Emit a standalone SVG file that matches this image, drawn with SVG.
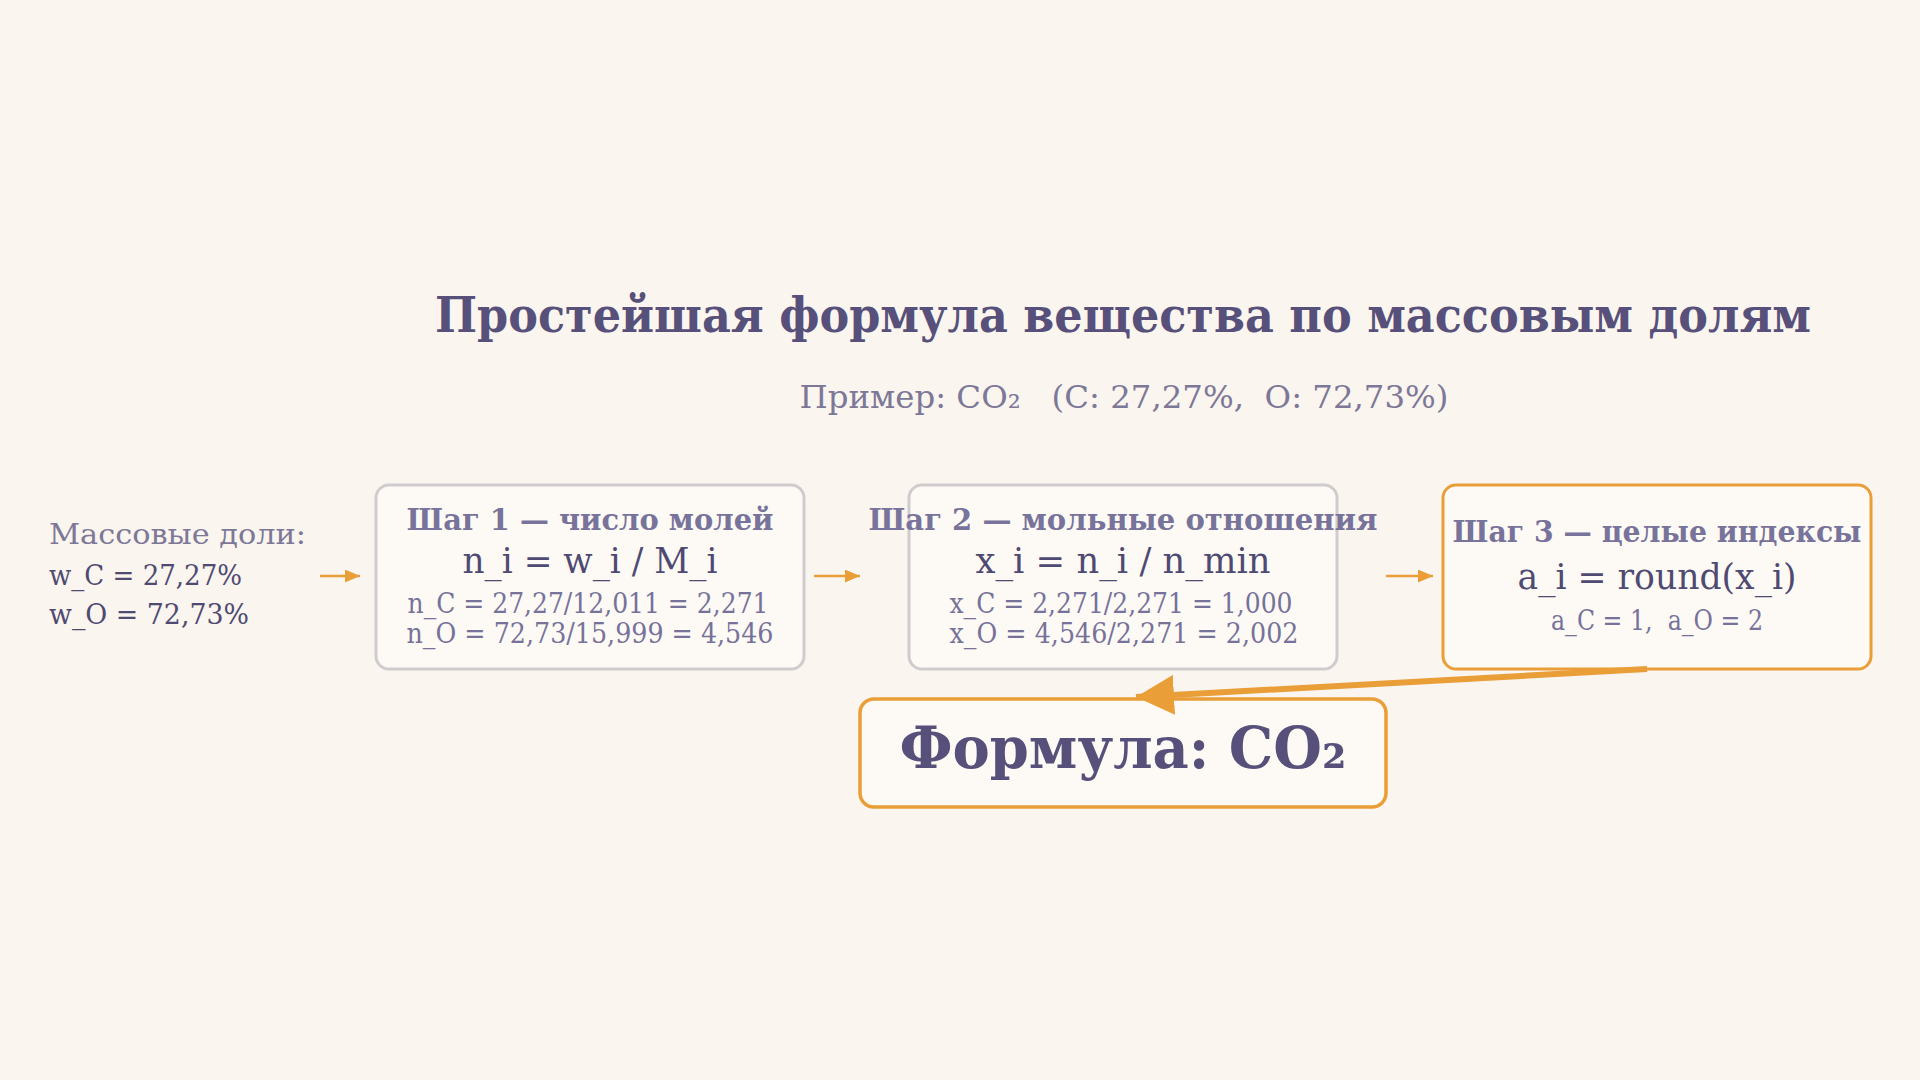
<svg xmlns="http://www.w3.org/2000/svg" width="1920" height="1080" viewBox="0 0 1920 1080">
<defs>
<style>
text{font-family:"DejaVu Serif","Liberation Serif",serif;white-space:pre}
.title{font-size:48px;font-weight:bold;fill:#56507a;text-anchor:middle}
.sub{font-size:32px;fill:#7d7898;text-anchor:middle}
.lbl{font-size:28px;fill:#7d7898}
.val{font-size:28px;fill:#4f4a72}
.st{font-size:30px;font-weight:bold;fill:#78739a;text-anchor:middle}
.fm{font-size:35px;fill:#4f4a72;text-anchor:middle}
.ln{font-size:27px;fill:#77729a;text-anchor:middle}
.res{font-size:58px;font-weight:bold;fill:#56507a;text-anchor:middle}
.box{fill:#fdfaf5;stroke:#d0cccd;stroke-width:3}
.hot{fill:#fdfaf5;stroke:#e99e38;stroke-width:3}
.res-box{fill:#fdfaf5;stroke:#e99e38;stroke-width:3.5}
.con{stroke:#e99e38;stroke-width:2.5;fill:none}
.big{stroke:#e99e38;stroke-width:6;fill:none}
</style>
<marker id="ah" markerUnits="userSpaceOnUse" viewBox="0 0 15 13" markerWidth="15" markerHeight="13" refX="15" refY="6.5" orient="auto">
<path d="M0,0 L15,6.5 L0,13 z" fill="#e99e38"/>
</marker>
<marker id="bh" markerUnits="userSpaceOnUse" viewBox="0 0 38 40" markerWidth="38" markerHeight="40" refX="38" refY="20" orient="auto">
<path d="M0,0 L38,20 L0,40 z" fill="#e99e38"/>
</marker>
</defs>
<rect width="1920" height="1080" fill="#faf5ee"/>
<g id="header">
<text class="title" x="1123" y="332" textLength="1376" lengthAdjust="spacingAndGlyphs">Простейшая формула вещества по массовым долям</text>
<text class="sub" x="1124" y="408" textLength="649" lengthAdjust="spacingAndGlyphs">Пример: CO₂   (C: 27,27%,  O: 72,73%)</text>
</g>
<g id="input">
<text class="lbl" x="49" y="544" textLength="257" lengthAdjust="spacingAndGlyphs">Массовые доли:</text>
<text class="val" x="49" y="585" textLength="193" lengthAdjust="spacingAndGlyphs">w_C = 27,27%</text>
<text class="val" x="49" y="624" textLength="200" lengthAdjust="spacingAndGlyphs">w_O = 72,73%</text>
</g>
<g id="step1">
<rect class="box" x="376" y="485" width="428" height="184" rx="13"/>
<text class="st" x="590" y="530" textLength="367" lengthAdjust="spacingAndGlyphs">Шаг 1 — число молей</text>
<text class="fm" x="590" y="573" textLength="255" lengthAdjust="spacingAndGlyphs">n_i = w_i / M_i</text>
<text class="ln" x="588" y="613" textLength="361" lengthAdjust="spacingAndGlyphs">n_C = 27,27/12,011 = 2,271</text>
<text class="ln" x="590" y="643" textLength="367" lengthAdjust="spacingAndGlyphs">n_O = 72,73/15,999 = 4,546</text>
</g>
<g id="step2">
<rect class="box" x="909" y="485" width="428" height="184" rx="13"/>
<text class="st" x="1123" y="530" textLength="509" lengthAdjust="spacingAndGlyphs">Шаг 2 — мольные отношения</text>
<text class="fm" x="1123" y="573" textLength="295" lengthAdjust="spacingAndGlyphs">x_i = n_i / n_min</text>
<text class="ln" x="1121" y="613" textLength="343" lengthAdjust="spacingAndGlyphs">x_C = 2,271/2,271 = 1,000</text>
<text class="ln" x="1124" y="643" textLength="349" lengthAdjust="spacingAndGlyphs">x_O = 4,546/2,271 = 2,002</text>
</g>
<g id="step3">
<rect class="hot" x="1443" y="485" width="428" height="184" rx="13"/>
<text class="st" x="1657" y="542" textLength="409" lengthAdjust="spacingAndGlyphs">Шаг 3 — целые индексы</text>
<text class="fm" x="1657" y="589" textLength="279" lengthAdjust="spacingAndGlyphs">a_i = round(x_i)</text>
<text class="ln" x="1657" y="630" textLength="212" lengthAdjust="spacingAndGlyphs">a_C = 1,  a_O = 2</text>
</g>
<g id="result">
<rect class="res-box" x="860" y="699" width="526" height="108" rx="14"/>
<text class="res" x="1123" y="768" textLength="447" lengthAdjust="spacingAndGlyphs">Формула: CO₂</text>
</g>
<g id="connectors">
<line class="con" x1="320" y1="576" x2="360" y2="576" marker-end="url(#ah)"/>
<line class="con" x1="814" y1="576" x2="860" y2="576" marker-end="url(#ah)"/>
<line class="con" x1="1386" y1="576" x2="1433" y2="576" marker-end="url(#ah)"/>
<line class="big" x1="1647" y1="669" x2="1136" y2="697" marker-end="url(#bh)"/>
</g>
</svg>
